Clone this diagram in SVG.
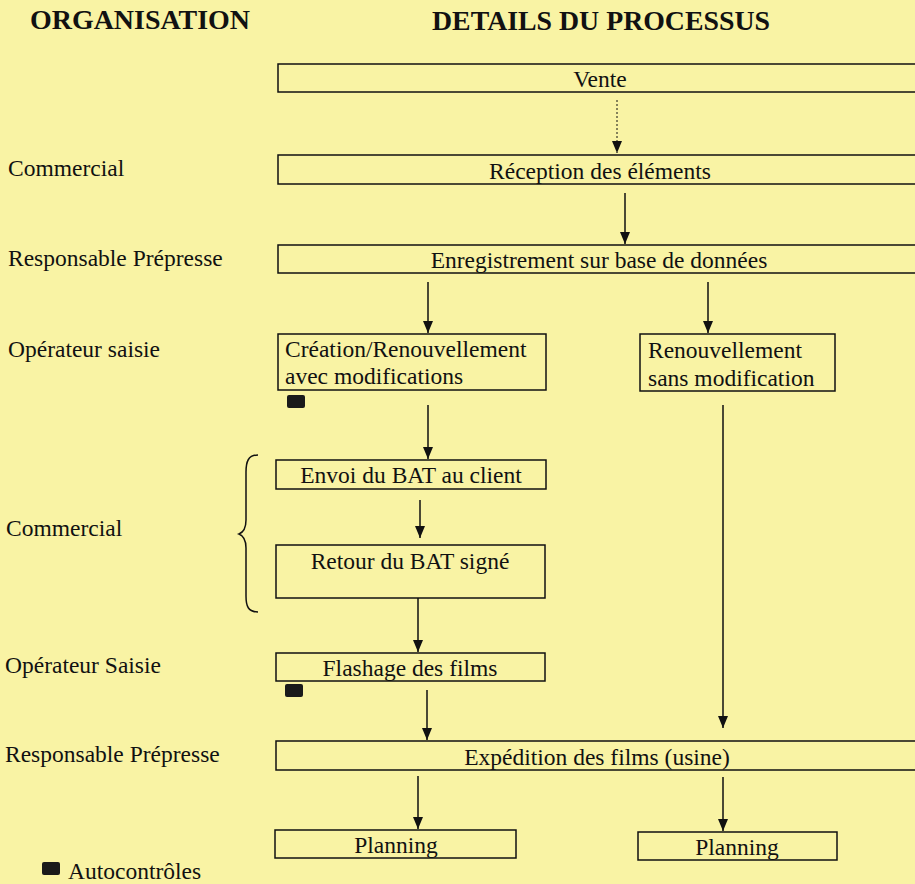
<svg xmlns="http://www.w3.org/2000/svg" width="915" height="884" viewBox="0 0 915 884">
<defs>
<style>
.bg{fill:#F9F3A4}
.box{fill:none;stroke:#111;stroke-width:1.5}
.t{font-family:"Liberation Serif","Times New Roman",serif;font-size:23.5px;fill:#111}
.c{text-anchor:middle}
.h{font-family:"Liberation Serif","Times New Roman",serif;font-size:27px;font-weight:bold;fill:#111}
.ln{stroke:#111;stroke-width:1.5;fill:none}
.dot{stroke:#111;stroke-width:1;stroke-dasharray:2,2;fill:none}
.blob{fill:#1a1a1a}
</style>
<marker id="ah" viewBox="0 0 12 10" refX="12" refY="5" markerWidth="12" markerHeight="10" markerUnits="userSpaceOnUse" orient="auto">
<path d="M0,0 L12,5 L0,10 Z" fill="#111"/>
</marker>
</defs>
<rect class="bg" x="0" y="0" width="915" height="884"/>

<g id="headings">
<text class="h" x="30" y="29" textLength="220" lengthAdjust="spacingAndGlyphs">ORGANISATION</text>
<text class="h" x="432" y="30" textLength="338" lengthAdjust="spacingAndGlyphs">DETAILS DU PROCESSUS</text>
</g>

<g id="roles">
<text class="t" x="8" y="176">Commercial</text>
<text class="t" x="8" y="266">Responsable Prépresse</text>
<text class="t" x="8" y="357">Opérateur saisie</text>
<text class="t" x="6" y="536">Commercial</text>
<text class="t" x="5" y="673">Opérateur Saisie</text>
<text class="t" x="5" y="762">Responsable Prépresse</text>
</g>

<g id="n-vente">
<rect class="box" x="278" y="64" width="650" height="28"/>
<text class="t c" x="600" y="87">Vente</text>
</g>
<g id="n-reception">
<rect class="box" x="278" y="155" width="650" height="29"/>
<text class="t c" x="600" y="179">Réception des éléments</text>
</g>
<g id="n-enregistrement">
<rect class="box" x="278" y="245" width="650" height="28"/>
<text class="t c" x="599" y="268">Enregistrement sur base de données</text>
</g>
<g id="n-creation">
<rect class="box" x="278" y="334" width="268" height="56"/>
<text class="t" x="285" y="357">Création/Renouvellement</text>
<text class="t" x="285" y="384">avec modifications</text>
<rect class="blob" x="287" y="395" width="18" height="13" rx="2"/>
</g>
<g id="n-renouvellement">
<rect class="box" x="640" y="334" width="195" height="57"/>
<text class="t" x="648" y="358">Renouvellement</text>
<text class="t" x="648" y="386">sans modification</text>
</g>
<g id="n-envoi">
<rect class="box" x="276" y="460" width="270" height="29"/>
<text class="t c" x="411" y="483">Envoi du BAT au client</text>
</g>
<g id="n-retour">
<rect class="box" x="276" y="545" width="269" height="53"/>
<text class="t c" x="410" y="569">Retour du BAT signé</text>
</g>
<g id="n-flashage">
<rect class="box" x="276" y="653" width="269" height="28"/>
<text class="t c" x="410" y="676">Flashage des films</text>
<rect class="blob" x="285" y="684" width="18" height="13" rx="2"/>
</g>
<g id="n-expedition">
<rect class="box" x="276" y="741" width="650" height="29"/>
<text class="t c" x="597" y="765">Expédition des films (usine)</text>
</g>
<g id="n-planning1">
<rect class="box" x="275" y="830" width="241" height="28"/>
<text class="t c" x="396" y="853">Planning</text>
</g>
<g id="n-planning2">
<rect class="box" x="638" y="832" width="199" height="28"/>
<text class="t c" x="737" y="855">Planning</text>
</g>

<g id="brace">
<path class="ln" d="M258,455 C248,455 246,462 246,472 L246,520 C246,528 244,532 239,534 C244,536 246,540 246,548 L246,596 C246,606 248,612 258,612"/>
</g>

<g id="legend">
<rect class="blob" x="42" y="862" width="18" height="13" rx="2"/>
<text class="t" x="68" y="879">Autocontrôles</text>
</g>

<g id="connectors">
<line class="dot" x1="617" y1="100" x2="617" y2="153" marker-end="url(#ah)"/>
<line class="ln" x1="625" y1="193" x2="625" y2="244" marker-end="url(#ah)"/>
<line class="ln" x1="428" y1="282" x2="428" y2="333" marker-end="url(#ah)"/>
<line class="ln" x1="708" y1="282" x2="708" y2="333" marker-end="url(#ah)"/>
<line class="ln" x1="428" y1="405" x2="428" y2="459" marker-end="url(#ah)"/>
<line class="ln" x1="420" y1="500" x2="420" y2="538" marker-end="url(#ah)"/>
<line class="ln" x1="418" y1="598" x2="418" y2="652" marker-end="url(#ah)"/>
<line class="ln" x1="427" y1="690" x2="427" y2="740" marker-end="url(#ah)"/>
<line class="ln" x1="723" y1="405" x2="723" y2="728" marker-end="url(#ah)"/>
<line class="ln" x1="418" y1="776" x2="418" y2="829" marker-end="url(#ah)"/>
<line class="ln" x1="723" y1="777" x2="723" y2="831" marker-end="url(#ah)"/>
</g>
</svg>
